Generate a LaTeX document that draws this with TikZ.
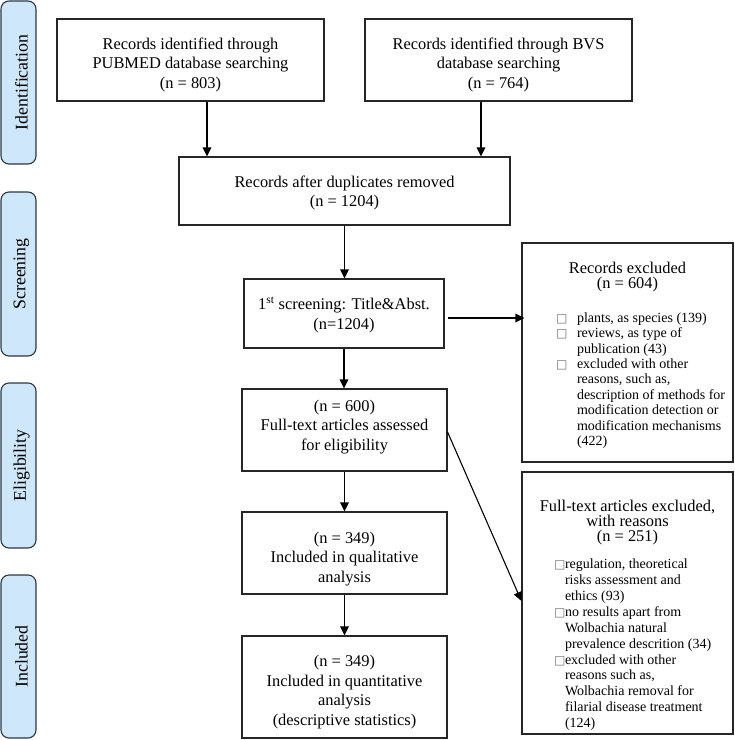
\documentclass[tikz,border=0pt]{standalone}
\usepackage{fontspec}
\setmainfont{Liberation Serif}
\newfontfamily\dejavu{DejaVu Sans}
\usetikzlibrary{arrows.meta,calc}
\newcommand{\bx}{{\dejavu\fontsize{12}{12}\selectfont\color{black!55}□}}
\newcommand{\bitem}[2]{\hangindent=#1\hangafter=1\makebox[#1][l]{\bx}#2\par}
\newcommand{\txt}[2][0pt]{\raisebox{#1}[\height][\depth]{\begin{tabular}{@{}c@{}}#2\end{tabular}}}
\definecolor{sidefill}{RGB}{207,231,251}
\definecolor{sidedraw}{RGB}{45,55,65}
\tikzset{
  box/.style={draw=black!85, line width=1.1pt, inner sep=0pt, align=center,
    font=\fontsize{16.4}{19.5}\selectfont},
  sidebox/.style={draw=sidedraw, fill=sidefill, line width=1.1pt, rounded corners=8pt,
    rotate=90, minimum height=35pt, inner sep=0pt,
    font=\fontsize{17.8}{20}\selectfont},
  arr/.style={line width=1.1pt, draw=black, -{Triangle[length=9pt,width=8.5pt]}}
}
\begin{document}
\begin{tikzpicture}[x=1pt,y=-1pt]
\useasboundingbox (0,0) rectangle (735,740);
% side labels
\node[sidebox, minimum width=163pt] (s1) at (18.5,82.5) {\raisebox{-3pt}[\height][\depth]{Identification}};
\node[sidebox, minimum width=164pt] (s2) at (18.5,274) {\raisebox{-3pt}[\height][\depth]{Screening}};
\node[sidebox, minimum width=165pt] (s3) at (18.5,465.5) {\raisebox{-3pt}[\height][\depth]{Eligibility}};
\node[sidebox, minimum width=163pt] (s4) at (18.5,656.5) {\raisebox{-3pt}[\height][\depth]{Included}};
% main boxes
\node[box, minimum width=267pt, minimum height=82pt] (pub) at (190.5,60)
  {\txt[-5pt]{Records identified through\\PUBMED database searching\\(n = 803)}};
\node[box, minimum width=267pt, minimum height=82pt] (bvs) at (498.5,60)
  {\txt[-5pt]{Records identified through BVS\\database searching\\(n = 764)}};
\node[box, minimum width=331pt, minimum height=68pt] (dup) at (344.5,191)
  {\txt[-2pt]{Records after duplicates removed\\(n = 1204)}};
\node[box, minimum width=200pt, minimum height=69pt] (scr) at (344,313.5)
  {\txt[-2pt]{1\textsuperscript{st} screening: Title\&Abst.\\(n=1204)}};
\node[box, minimum width=205pt, minimum height=82pt] (full) at (344.5,430)
  {\txt[3pt]{(n = 600)\\Full-text articles assessed\\for eligibility}};
\node[box, minimum width=205pt, minimum height=82pt] (qual) at (344.5,553)
  {\txt[-6pt]{(n = 349)\\Included in qualitative\\analysis}};
\node[box, minimum width=205pt, minimum height=102pt] (quant) at (344.5,687)
  {\txt[-5pt]{(n = 349)\\Included in quantitative\\analysis\\(descriptive statistics)}};
% exclusion boxes
\node[box, minimum width=211pt, minimum height=219pt] (ex1) at (627.5,352.5)
  {\begin{minipage}{211pt}
   \vspace*{6pt}
   \centering\fontsize{16.4}{15}\selectfont Records excluded\\(n = 604)\par
   \vspace{18pt}
   \raggedright\fontsize{14}{15.4}\selectfont\leftskip=34pt
   \bitem{21pt}{plants, as species (139)}
   \bitem{21pt}{reviews, as type of\newline publication (43)}
   \bitem{21pt}{excluded with other\newline reasons, such as,\newline description of methods for\newline modification detection or\newline modification mechanisms\newline (422)}
   \end{minipage}};
\node[box, minimum width=211pt, minimum height=262pt] (ex2) at (627.5,603)
  {\begin{minipage}{211pt}
   \vspace*{25pt}
   \centering\fontsize{16.4}{15}\selectfont Full-text articles excluded,\\with reasons\\(n = 251)\par
   \vspace{11pt}
   \raggedright\fontsize{14}{15.9}\selectfont\leftskip=32pt
   \bitem{11pt}{regulation, theoretical\newline risks assessment and\newline ethics (93)}
   \bitem{11pt}{no results apart from\newline Wolbachia natural\newline prevalence descrition (34)}
   \bitem{11pt}{excluded with other\newline reasons such as,\newline Wolbachia removal for\newline filarial disease treatment\newline (124)}
   \end{minipage}};
% connectors
\draw[arr] ([xshift=16.5pt]pub.south) -- ([xshift=16.5pt]pub.south |- dup.north);
\draw[arr] ([xshift=-17.5pt]bvs.south) -- ([xshift=-17.5pt]bvs.south |- dup.north);
\draw[arr] (dup.south) -- (dup.south |- scr.north);
\draw[arr] (scr.south) -- (scr.south |- full.north);
\draw[arr] (full.south) -- (qual.north);
\draw[arr] (qual.south) -- (quant.north);
\draw[arr] ([shift={(3pt,-4.5pt)}]scr.east) -- ([shift={(3pt,-4.5pt)}]scr.east -| ex1.west);
\draw[arr] ([yshift=-2pt]full.east) -- ([yshift=2pt]ex2.west);
\end{tikzpicture}
\end{document}
